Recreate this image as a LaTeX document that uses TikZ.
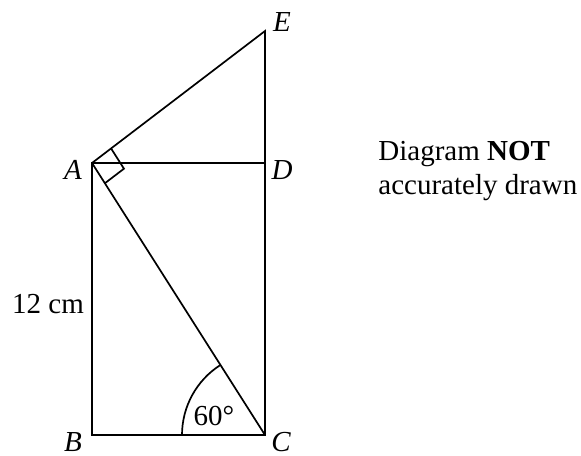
\documentclass[tikz,border=0pt]{standalone}
\usepackage{fontspec}
\setmainfont{Liberation Serif}
\usepackage{tikz}
\usetikzlibrary{calc}

\begin{document}
\begin{tikzpicture}[
    x=0.5pt, y=-0.5pt,
    edge/.style={line width=0.85pt, line join=miter},
    vertex/.style={font=\fontsize{14.5}{17}\selectfont\itshape, inner sep=0pt},
    note/.style={font=\fontsize{14.5}{17}\selectfont, inner sep=0pt, align=left}
]
\useasboundingbox (0,0) rectangle (581,455);

% Points
\coordinate (a) at (92,163);
\coordinate (d) at (265,163);
\coordinate (e) at (265,31);
\coordinate (b) at (92,435);
\coordinate (c) at (265,435);

% Lines
\draw[edge] (a) -- (e) -- (d) -- (c) -- (b) -- (a) -- (d);
\draw[edge] (a) -- (c);

% Right angle at A
\draw[edge] ($(a)!12pt!(e)$) -- ($(a)!12pt!(e)+(a)!12pt!(c)-(a)$) -- ($(a)!12pt!(c)$);

% Angle at C
\draw[edge] ($(c)+(-83,0)$) arc[start angle=180, end angle=237.5, radius=83];

% Labels
\node[vertex] (la) at (73,170) {A};
\node[vertex] (ld) at (282,170) {D};
\node[vertex] (le) at (282,22) {E};
\node[vertex] (lb) at (73,442) {B};
\node[vertex] (lc) at (281,442) {C};
\node[note] (len) at (48,304) {12 cm};
\node[note] (ang) at (214,416) {60\textdegree};
\node[note, anchor=west] (dia) at (378,171) {Diagram \textbf{NOT}\\accurately drawn};

\end{tikzpicture}
\end{document}
